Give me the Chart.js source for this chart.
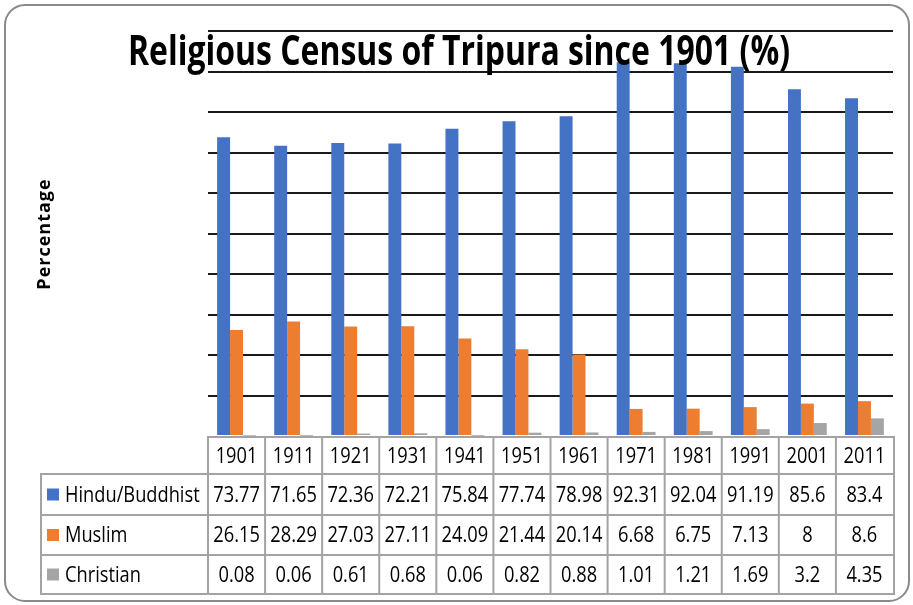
<!DOCTYPE html>
<html>
<head>
<meta charset="utf-8">
<script src="https://cdn.jsdelivr.net/npm/chart.js@4/dist/chart.umd.min.js"></script>
<style>
html,body{margin:0;padding:0;background:#fff;}
#wrap{width:913px;height:605px;}
</style>
</head>
<body>
<div id="wrap"><canvas id="c" width="913" height="605"></canvas></div>
<script>
const chartTitle = 'Religious Census of Tripura since 1901 (%)';
const yAxisTitle = 'Percentage';
const years = ['1901','1911','1921','1931','1941','1951','1961','1971','1981','1991','2001','2011'];
const seriesNames = ['Hindu/Buddhist','Muslim','Christian'];
const hindu = [73.77,71.65,72.36,72.21,75.84,77.74,78.98,92.31,92.04,91.19,85.6,83.4];
const muslim = [26.15,28.29,27.03,27.11,24.09,21.44,20.14,6.68,6.75,7.13,8,8.6];
const christian = [0.08,0.06,0.61,0.68,0.06,0.82,0.88,1.01,1.21,1.69,3.2,4.35];
const colors = ['#4472C4','#ED7D31','#A5A5A5'];

function scaledText(ctx, text, x, y, sx, align) {
  ctx.save();
  ctx.translate(x, y);
  ctx.scale(sx, 1);
  ctx.textAlign = align;
  ctx.fillText(text, 0, 0);
  ctx.restore();
}

const deco = {
  id: 'deco',
  beforeDraw(chart) {
    const ctx = chart.ctx;
    ctx.save();
    ctx.fillStyle = '#fff';
    ctx.fillRect(0, 0, chart.width, chart.height);
    ctx.restore();
  },
  afterDatasetsDraw(chart) {
    const ctx = chart.ctx;
    const ca = chart.chartArea;
    const xs = chart.scales.x;
    const n = years.length;
    const colW = (ca.right - ca.left) / n;
    ctx.save();

    // outer rounded frame
    ctx.strokeStyle = '#8a8a8a';
    ctx.lineWidth = 2;
    ctx.beginPath();
    ctx.roundRect(5, 5, 904, 596, 20);
    ctx.stroke();

    // title (drawn over bars)
    ctx.fillStyle = '#000';
    ctx.font = 'bold 42px "Open Sans", sans-serif';
    ctx.textBaseline = 'alphabetic';
    const w = ctx.measureText(chartTitle).width;
    scaledText(ctx, chartTitle, 459, 65, 662 / w, 'center');

    // y axis title
    ctx.save();
    ctx.translate(50, 234);
    ctx.rotate(-Math.PI / 2);
    ctx.font = 'bold 18px "Open Sans", sans-serif';
    ctx.letterSpacing = '1px';
    ctx.textAlign = 'center';
    ctx.textBaseline = 'alphabetic';
    ctx.fillText(yAxisTitle, 0, 0);
    ctx.restore();

    // data table
    const hTop = ca.bottom + 1, hBot = 474;
    const rows = [474, 515, 555, 594];
    const labelLeft = 41;
    const tLeft = ca.left, tRight = ca.right + 1;
    ctx.strokeStyle = '#a3a3a3';
    ctx.lineWidth = 2;
    ctx.beginPath();
    ctx.rect(tLeft, hTop, tRight - tLeft, hBot - hTop);
    ctx.rect(labelLeft, rows[0], tRight - labelLeft, rows[3] - rows[0]);
    for (let r = 1; r < 3; r++) { ctx.moveTo(labelLeft, rows[r]); ctx.lineTo(tRight, rows[r]); }
    for (let i = 1; i < n; i++) {
      const bx = xs.getPixelForValue(i) - colW / 2;
      ctx.moveTo(bx, hTop); ctx.lineTo(bx, rows[3]);
    }
    ctx.moveTo(tLeft, hTop); ctx.lineTo(tLeft, rows[3]);
    ctx.stroke();

    ctx.fillStyle = '#000';
    ctx.font = '22px "Open Sans", sans-serif';
    ctx.textBaseline = 'middle';
    const sx = 0.83;
    const series = [hindu, muslim, christian];
    for (let i = 0; i < n; i++) {
      const cx = xs.getPixelForValue(i);
      scaledText(ctx, years[i], cx, (hTop + hBot) / 2 + 1, sx, 'center');
      for (let s = 0; s < 3; s++) {
        scaledText(ctx, String(series[s][i]), cx, (rows[s] + rows[s + 1]) / 2 + 1, sx, 'center');
      }
    }
    for (let s = 0; s < 3; s++) {
      const cy = (rows[s] + rows[s + 1]) / 2;
      ctx.fillStyle = colors[s];
      ctx.fillRect(47, cy - 6, 12, 12);
      ctx.fillStyle = '#000';
      scaledText(ctx, seriesNames[s], 65, cy + 1, sx, 'left');
    }
    ctx.restore();
  }
};

new Chart(document.getElementById('c'), {
  type: 'bar',
  data: {
    labels: years,
    datasets: [
      { label: seriesNames[0], data: hindu, backgroundColor: colors[0] },
      { label: seriesNames[1], data: muslim, backgroundColor: colors[1] },
      { label: seriesNames[2], data: christian, backgroundColor: colors[2] }
    ]
  },
  options: {
    responsive: false,
    animation: false,
    devicePixelRatio: 1,
    layout: { padding: { left: 208, right: 20, top: 31, bottom: 169 } },
    datasets: { bar: { categoryPercentage: 0.68, barPercentage: 1.0 } },
    plugins: { legend: { display: false }, tooltip: { enabled: false }, title: { display: false } },
    scales: {
      x: { display: false },
      y: {
        min: 0, max: 100,
        ticks: { display: false, stepSize: 10 },
        border: { display: false },
        grid: {
          drawTicks: false,
          lineWidth: 2,
          color: (c) => (c.tick && c.tick.value === 0) ? 'rgba(0,0,0,0)' : '#1a1a1a'
        }
      }
    }
  },
  plugins: [deco]
});
</script>
</body>
</html>
